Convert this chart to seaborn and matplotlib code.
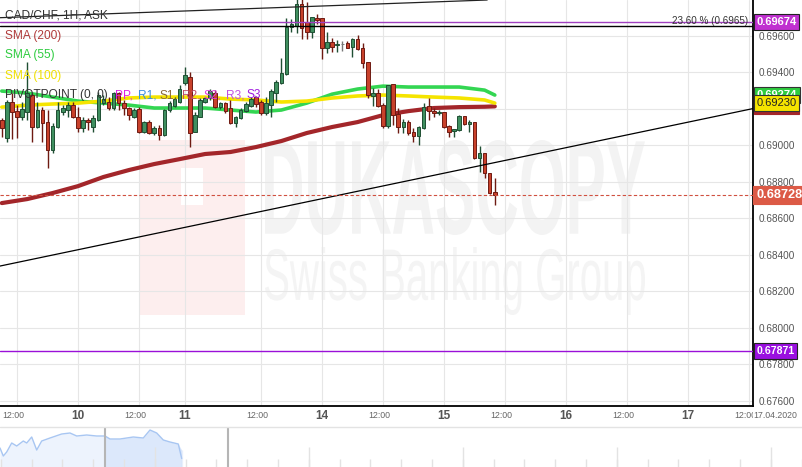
# CAD/CHF 1H candles with SMAs, trendlines and levels (Dukascopy style)
import numpy as np
import pandas as pd
import seaborn as sns
from matplotlib import pyplot as plt
from matplotlib.patches import Rectangle, PathPatch
from matplotlib.lines import Line2D
from matplotlib.textpath import TextPath
from matplotlib.font_manager import FontProperties
from matplotlib.transforms import (Affine2D, IdentityTransform, ScaledTranslation,
                                   blended_transform_factory)

# hour index, 0 = 14 Apr 00:00 (weekend compressed)
hours = list(range(-63, 35))
opens = [0.69137, 0.69038, 0.69237, 0.69186, 0.69155, 0.69182, 0.69274, 0.69100, 0.69192, 0.69128,
         0.68973, 0.69100, 0.69182, 0.69192, 0.69219, 0.69152, 0.69092, 0.69137, 0.69100, 0.69137,
         0.69229, 0.69237, 0.69201, 0.69283, 0.69229, 0.69201, 0.69155, 0.69197, 0.69073, 0.69128,
         0.69064, 0.69092, 0.69055, 0.69192, 0.69214, 0.69237, 0.69338, 0.69373, 0.69073, 0.69155,
         0.69237, 0.69256, 0.69287, 0.69207, 0.69229, 0.69201, 0.69119, 0.69146, 0.69188, 0.69214,
         0.69261, 0.69237, 0.69174, 0.69219, 0.69287, 0.69338, 0.69389, 0.69645, 0.69652, 0.69773,
         0.69676, 0.69621, 0.69694, 0.69694, 0.69533, 0.69563, 0.69546, 0.69552, 0.69557, 0.69535,
         0.69581, 0.69530, 0.69456, 0.69270, 0.69283, 0.69219, 0.69104, 0.69334, 0.69168, 0.69097,
         0.69128, 0.69073, 0.69049, 0.69092, 0.69214, 0.69188, 0.69174, 0.69182, 0.69104, 0.69077,
         0.69082, 0.69159, 0.69115, 0.69128, 0.68927, 0.68955, 0.68848, 0.68744]
highs = [0.69148, 0.69247, 0.69283, 0.69219, 0.69237, 0.69455, 0.69283, 0.69237, 0.69210, 0.69192,
         0.69121, 0.69237, 0.69219, 0.69237, 0.69237, 0.69210, 0.69155, 0.69146, 0.69164, 0.69292,
         0.69274, 0.69265, 0.69292, 0.69292, 0.69247, 0.69210, 0.69201, 0.69210, 0.69132, 0.69137,
         0.69104, 0.69110, 0.69196, 0.69241, 0.69265, 0.69329, 0.69429, 0.69400, 0.69182, 0.69256,
         0.69265, 0.69305, 0.69301, 0.69237, 0.69237, 0.69247, 0.69159, 0.69201, 0.69237, 0.69265,
         0.69269, 0.69247, 0.69265, 0.69305, 0.69356, 0.69475, 0.69694, 0.69689, 0.69800, 0.69810,
         0.69785, 0.69703, 0.69718, 0.69694, 0.69621, 0.69585, 0.69575, 0.69572, 0.69572, 0.69585,
         0.69603, 0.69561, 0.69456, 0.69311, 0.69305, 0.69229, 0.69329, 0.69334, 0.69201, 0.69141,
         0.69137, 0.69092, 0.69104, 0.69232, 0.69256, 0.69201, 0.69192, 0.69182, 0.69110, 0.69086,
         0.69164, 0.69159, 0.69137, 0.69128, 0.68995, 0.68955, 0.68848, 0.68818]
lows = [0.69044, 0.69016, 0.69031, 0.69038, 0.69137, 0.69137, 0.69018, 0.69093, 0.69018, 0.68872,
        0.68956, 0.69093, 0.69164, 0.69155, 0.69146, 0.69073, 0.69073, 0.69082, 0.69073, 0.69132,
        0.69219, 0.69192, 0.69192, 0.69192, 0.69164, 0.69137, 0.69146, 0.69067, 0.69064, 0.69060,
        0.69055, 0.69027, 0.69049, 0.69182, 0.69210, 0.69229, 0.69329, 0.68991, 0.69070, 0.69152,
        0.69229, 0.69247, 0.69201, 0.69196, 0.69174, 0.69115, 0.69100, 0.69141, 0.69182, 0.69210,
        0.69210, 0.69164, 0.69164, 0.69152, 0.69237, 0.69334, 0.69384, 0.69621, 0.69614, 0.69579,
        0.69579, 0.69585, 0.69663, 0.69470, 0.69506, 0.69511, 0.69508, 0.69517, 0.69530, 0.69481,
        0.69521, 0.69420, 0.69256, 0.69215, 0.69207, 0.69092, 0.69092, 0.69110, 0.69064, 0.69064,
        0.69055, 0.69018, 0.69000, 0.69086, 0.69137, 0.69155, 0.69164, 0.69092, 0.69045, 0.69045,
        0.69078, 0.69110, 0.69073, 0.68922, 0.68854, 0.68818, 0.68731, 0.68671]
closes = [0.69093, 0.69234, 0.69182, 0.69155, 0.69196, 0.69283, 0.69100, 0.69192, 0.69119, 0.68973,
          0.69104, 0.69192, 0.69201, 0.69219, 0.69155, 0.69092, 0.69137, 0.69124, 0.69146, 0.69274,
          0.69250, 0.69201, 0.69283, 0.69229, 0.69201, 0.69164, 0.69192, 0.69073, 0.69124, 0.69064,
          0.69092, 0.69055, 0.69192, 0.69232, 0.69250, 0.69305, 0.69384, 0.69066, 0.69164, 0.69247,
          0.69259, 0.69298, 0.69207, 0.69229, 0.69188, 0.69119, 0.69152, 0.69192, 0.69225, 0.69250,
          0.69225, 0.69174, 0.69229, 0.69298, 0.69347, 0.69396, 0.69648, 0.69663, 0.69773, 0.69640,
          0.69621, 0.69700, 0.69685, 0.69533, 0.69563, 0.69539, 0.69555, 0.69552, 0.69533, 0.69581,
          0.69524, 0.69448, 0.69272, 0.69287, 0.69214, 0.69104, 0.69329, 0.69164, 0.69100, 0.69128,
          0.69064, 0.69049, 0.69097, 0.69207, 0.69188, 0.69174, 0.69182, 0.69100, 0.69073, 0.69086,
          0.69159, 0.69115, 0.69128, 0.68927, 0.68955, 0.68845, 0.68735, 0.68728]

# moving averages read at every 5th hour
sma_hours = [-63, -58, -53, -48, -43, -38, -33, -28, -23, -18, -13, -8, -3, 2, 7, 12, 17, 22, 27, 32, 34]
sma200 = [0.68682, 0.68704, 0.68737, 0.68775, 0.68825, 0.68863, 0.68896, 0.68923, 0.68951, 0.68962,
          0.68989, 0.69022, 0.69066, 0.69099, 0.69126, 0.69164, 0.69186, 0.69203, 0.69208, 0.69210, 0.69212]
sma55 = [0.69296, 0.69285, 0.69263, 0.69241, 0.69230, 0.69219, 0.69203, 0.69203, 0.69203, 0.69192,
         0.69181, 0.69192, 0.69230, 0.69279, 0.69307, 0.69323, 0.69318, 0.69318, 0.69318, 0.69301, 0.69274]
sma100 = [0.69208, 0.69219, 0.69225, 0.69230, 0.69241, 0.69258, 0.69263, 0.69263, 0.69263, 0.69252,
          0.69247, 0.69236, 0.69241, 0.69258, 0.69269, 0.69274, 0.69269, 0.69263, 0.69258, 0.69247, 0.69230]

# trendlines (two points each) and levels
trend_low = [(-63.35, 0.68337), (84.8, 0.69200)]
trend_high = [(-63.35, 0.69698), (32.5, 0.69795)]
fib_level = 0.6965
pivot_top = 0.69674
pivot_bottom = 0.67871
last_price = 0.68728

price_ticks = [0.676, 0.678, 0.680, 0.682, 0.684, 0.686, 0.688, 0.690, 0.692, 0.694, 0.696]
tick_hours = [-60, -48, -36, -27, -12, 0, 12, 24, 36, 48, 60, 72, 84]
tick_labels = ['12:00', '10', '12:00', '11', '12:00', '14', '12:00', '15', '12:00', '16', '12:00', '17', '12:00']

# navigator strip
nav_pos = [0, 3.3, 6.7, 11.7, 16.7, 23.3, 26.7, 31.7, 36.7, 41.7, 50, 61.7, 70, 76.7, 86.7, 96.7, 105,
           110, 120, 133.3, 143.3, 150, 156.7, 163.3, 170, 178.3, 181.7, 181.7]
nav_val = [19, 11, 15, 24, 21, 26, 24, 30, 17, 26, 29, 33, 34, 31, 32, 31, 31,
           28, 28, 30, 29, 37, 34, 27, 25, 23, 17, 0]
nav_window = (105, 228)

sns.set_style('white')
plt.rcParams['font.family'] = ['Liberation Sans', 'DejaVu Sans']

W, H = 803, 467
fig = plt.figure(figsize=(W / 100, H / 100), dpi=100)
ax = fig.add_axes([0, 61 / H, 753 / W, 406 / H])
ax.set_xlim(-63.35, 84.8)
ax.set_ylim(0.67570, 0.69795)

for s in ['left', 'top']:
    ax.spines[s].set_visible(False)
for s in ['right', 'bottom']:
    ax.spines[s].set_color('black')
    ax.spines[s].set_linewidth(1.3)

ax.grid(True, color='#e6e6e6', lw=0.8)
ax.set_axisbelow(True)
ax.yaxis.tick_right()
ax.set_yticks(price_ticks)
ax.set_yticklabels([f'{v:.5f}' for v in price_ticks])
ax.tick_params(axis='y', length=0, pad=4, labelsize=7.2, labelcolor='#555555')
ax.set_xticks(tick_hours)
ax.tick_params(axis='x', length=0, labelbottom=False)

# watermark
def wm_text(s, x0, x1, ytop, ybot, color, weight):
    tp = TextPath((0, 0), s, size=100, prop=FontProperties(family='Liberation Sans', weight=weight))
    bb = tp.get_extents()
    tr = Affine2D().translate(-bb.x0, -bb.y0).scale((x1 - x0) / bb.width, (ybot - ytop) / bb.height)
    tr = tr.translate(x0, H - ybot)
    ax.add_artist(PathPatch(tp, transform=tr + IdentityTransform(), fc=color, ec='none', zorder=0.2))

ax.add_artist(Rectangle((140, H - 315), 105, 175, transform=IdentityTransform(), fc='#fdeeee', ec='none', zorder=0.15))
ax.add_artist(Rectangle((181, H - 205), 22, 37, transform=IdentityTransform(), fc='white', ec='none', zorder=0.16))
wm_text('DUKASCOPY', 265, 645, 140, 235, '#f3f3f3', 'bold')
wm_text('Swiss Banking Group', 265, 645, 247, 315, '#f4f4f4', 'normal')

# moving averages
sns.lineplot(x=sma_hours, y=sma200, ax=ax, color='#a3262a', lw=3.0, zorder=2)
sns.lineplot(x=sma_hours, y=sma55, ax=ax, color='#33d652', lw=2.6, zorder=2)
sns.lineplot(x=sma_hours, y=sma100, ax=ax, color='#f5e400', lw=2.6, zorder=2)

# candles
df = pd.DataFrame({'hour': hours, 'open': opens, 'high': highs, 'low': lows, 'close': closes})
up = df['close'] > df['open']
down = df['close'] < df['open']
flat = ~(up | down)
for mask, fill, edge in [(up, '#3f8f5f', '#1f4f33'), (down, '#c8412b', '#6e1a12'), (flat, '#888888', '#777777')]:
    d = df[mask]
    ax.vlines(d['hour'], d['low'], d['high'], color=edge, lw=1, zorder=3)
    body = (d['close'] - d['open']).abs().clip(lower=0.000015)
    ax.bar(d['hour'], body, bottom=d[['open', 'close']].min(axis=1), width=0.7,
           color=fill, edgecolor=edge, lw=0.7, zorder=3.5)

# lines
ax.axline(trend_low[0], trend_low[1], color='black', lw=0.9, zorder=4)
ax.axline(trend_high[0], trend_high[1], color='#222222', lw=0.9, zorder=4)
ax.axhline(fib_level, color='black', lw=1, zorder=4)
ax.axhline(pivot_top, color='#a040c0', lw=1, zorder=4)
ax.axhline(pivot_bottom, color='#9a10d8', lw=1, zorder=4)
ax.axhline(last_price, color='#d05040', lw=0.8, ls=(0, (3, 2)), zorder=4)
ax.text(0.9935, fib_level + 0.00003, '23.60 % (0.6965)', transform=blended_transform_factory(ax.transAxes, ax.transData),
        ha='right', va='bottom', fontsize=7.1, color='#333333', zorder=6)

# price boxes on the right axis (stacked like the original)
lab_trans = blended_transform_factory(ax.transAxes, ax.transData)
def price_box(val, fc, tc, size, bold=True, ec=None):
    ax.text(1.0045, val, f'{val:.5f}', transform=lab_trans, ha='left', va='center', fontsize=size,
            color=tc, fontweight='bold' if bold else 'normal', clip_on=False, zorder=10,
            bbox=dict(boxstyle='square,pad=0.25', fc=fc, ec=ec or fc, lw=0.8))

price_box(pivot_top, '#c030d0', 'white', 8, ec='#222222')
price_box(sma200[-1], '#a3262a', 'white', 8)
price_box(sma55[-1], '#2ecc40', 'white', 8, ec='#333333')
price_box(sma100[-1], '#f5e400', '#222222', 8, bold=False, ec='#333333')
price_box(last_price, '#dc5a46', 'white', 9.2)
price_box(pivot_bottom, '#9a10e0', 'white', 7.6, ec='#222222')

# x labels
xl_trans = blended_transform_factory(ax.transData, fig.transFigure)
shift = ScaledTranslation(-4 / 100, 0, fig.dpi_scale_trans)
for h, lab in zip(tick_hours, tick_labels):
    if lab == '12:00':
        ax.text(h, 1 - 416 / H, lab, transform=xl_trans + shift, ha='center', va='center',
                fontsize=6.3, color='#666666', clip_on=False)
    else:
        ax.text(h, 1 - 416 / H, lab, transform=xl_trans, ha='center', va='center',
                fontsize=8.5, fontweight='bold', color='#555555', clip_on=False)
fig.text(797 / W, 1 - 416 / H, '17.04.2020', ha='right', va='center', fontsize=6.3, color='#666666',
         bbox=dict(boxstyle='square,pad=0', fc='white', ec='none'))

# legend block top-left
fig.text(5 / W, 1 - 16 / H, 'CAD/CHF, 1H, ASK', fontsize=8.6, color='#333333', va='center')
fig.text(5 / W, 1 - 36 / H, 'SMA (200)', fontsize=8.6, color='#b03a3a', va='center')
fig.text(5 / W, 1 - 55 / H, 'SMA (55)', fontsize=8.6, color='#2ecc40', va='center')
fig.text(5 / W, 1 - 76 / H, 'SMA (100)', fontsize=8.6, color='#f0e000', va='center')
pivot_parts = [(5, 'PIVOTPOINT (0, 0)', '#333333'), (115, 'PP,', '#e020e0'), (138, 'R1,', '#3a8ee0'),
               (160, 'S1,', '#8a6a3a'), (182, 'R2,', '#c0506a'), (204, 'S2,', '#e040e0'),
               (226, 'R3,', '#c050e0'), (247, 'S3', '#a020e0')]
for x, s, c in pivot_parts:
    fig.text(x / W, 1 - 95 / H, s, fontsize=8.6, color=c, va='center')

# navigator
axn = fig.add_axes([0, 0, 1, 40 / H])
axn.set_xlim(0, W)
axn.set_ylim(0, 40)
axn.axis('off')
nav = pd.DataFrame({'pos': nav_pos, 'val': nav_val})
left = nav[nav['pos'] <= nav_window[0]]
right = nav[nav['pos'] >= nav_window[0]]
axn.fill_between(left['pos'], 0, left['val'], color='#edf3fd', lw=0)
axn.fill_between(right['pos'], 0, right['val'], color='#dce8fb', lw=0)
sns.lineplot(data=nav, x='pos', y='val', ax=axn, color='#a8c6f2', lw=1, sort=False)
for p in np.arange(0.9, W, 30.8):
    axn.vlines(p, 0, 8, color='#e3e3e3', lw=1)
for p in np.arange(155, W, 154):
    axn.vlines(p, 0, 20, color='#e3e3e3', lw=1)
for p in nav_window:
    axn.axvline(p, color='#b5b5b5', lw=1.5)
fig.add_artist(Line2D([0, 1], [40 / H, 40 / H], transform=fig.transFigure, color='#e3e3e3', lw=1))

fig.savefig('out.png', dpi=100)
